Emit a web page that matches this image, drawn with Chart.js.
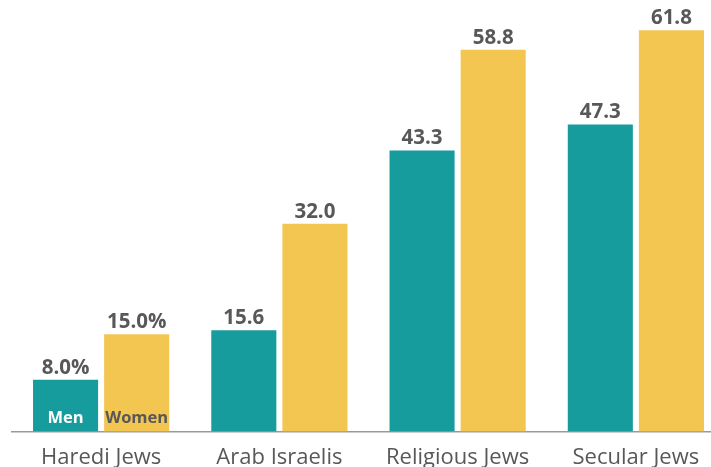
<!DOCTYPE html>
<html>
<head>
<meta charset="utf-8">
<script src="https://cdn.jsdelivr.net/npm/chart.js@4.4.1/dist/chart.umd.min.js"></script>
<style>
  html, body { margin: 0; padding: 0; background: #fff; overflow: hidden; }
  #wrap { position: absolute; left: 0; top: 0; width: 725px; height: 488px; }
</style>
</head>
<body>
<div id="wrap"><canvas id="chart" width="725" height="488"></canvas></div>
<script>
// Groups and the two series shown per group
const groups = ['Haredi Jews', 'Arab Israelis', 'Religious Jews', 'Secular Jews'];
const seriesNames = ['Men', 'Women'];
const menValues = [8.0, 15.6, 43.3, 47.3];
const womenValues = [15.0, 32.0, 58.8, 61.8];

const teal = '#179c9d';
const yellow = '#f3c551';
const textGray = '#585858';

// Value labels above each bar, series names inside the first group's bars
const barLabels = {
    id: 'barLabels',
    afterDatasetsDraw(chart) {
        const ctx = chart.ctx;
        ctx.save();
        ctx.textAlign = 'center';
        ctx.textBaseline = 'alphabetic';
        chart.data.datasets.forEach((ds, di) => {
            const meta = chart.getDatasetMeta(di);
            meta.data.forEach((bar, i) => {
                const v = ds.data[i];
                const txt = v.toFixed(1) + (i === 0 ? '%' : '');
                ctx.font = 'bold 20.5px "Open Sans"';
                ctx.fillStyle = textGray;
                ctx.fillText(txt, bar.x, bar.y - 6);
                if (i === 0) {
                    ctx.font = 'bold 16.5px "Open Sans"';
                    ctx.fillStyle = di === 0 ? '#ffffff' : textGray;
                    ctx.fillText(ds.label, bar.x, bar.base - 9);
                }
            });
        });
        ctx.restore();
    }
};

new Chart(document.getElementById('chart'), {
    type: 'bar',
    data: {
        labels: groups,
        datasets: [
            { label: seriesNames[0], data: menValues, backgroundColor: teal },
            { label: seriesNames[1], data: womenValues, backgroundColor: yellow }
        ]
    },
    options: {
        responsive: false,
        devicePixelRatio: 1,
        animation: false,
        categoryPercentage: 0.798,
        barPercentage: 0.915,
        layout: { padding: { left: 12, right: 0, top: 3, bottom: 4 } },
        plugins: {
            legend: { display: false },
            tooltip: { enabled: false }
        },
        scales: {
            x: {
                grid: { display: false, drawTicks: false, tickLength: 0 },
                border: { display: true, color: '#9a9a9a', width: 1.5 },
                ticks: {
                    color: textGray,
                    padding: 13,
                    font: { family: 'Open Sans', size: 22 }
                }
            },
            y: {
                display: false,
                min: 0,
                max: 66
            }
        }
    },
    plugins: [barLabels]
});
</script>
</body>
</html>
